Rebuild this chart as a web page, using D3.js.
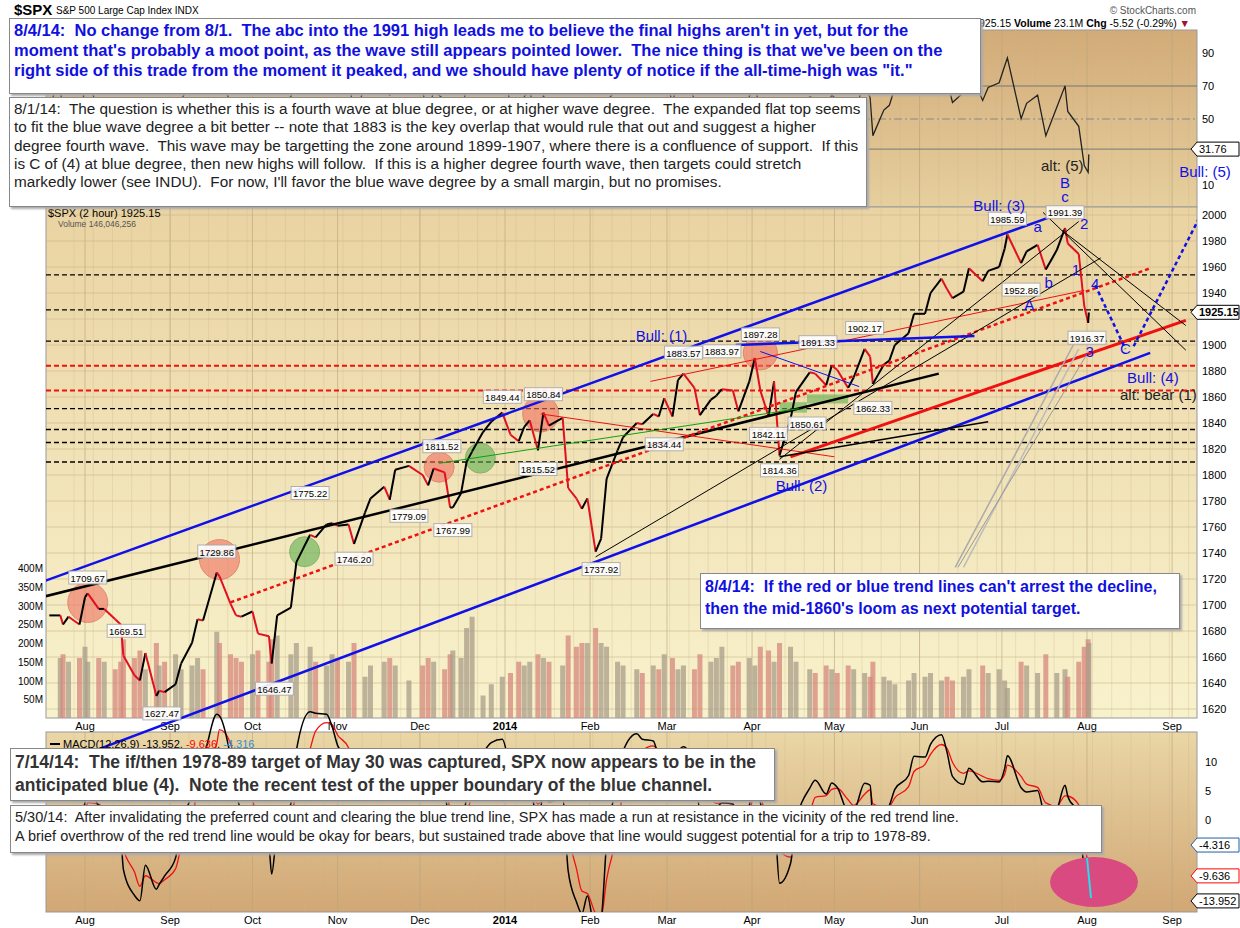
<!DOCTYPE html>
<html>
<head>
<meta charset="utf-8">
<script src="https://cdn.jsdelivr.net/npm/d3@7"></script>
<style>
  body { margin: 0; background: #fff; }
  svg text { font-family: Arial, "Liberation Sans", sans-serif; }
  .note { position: absolute; background: #fff; border: 1px solid #888; box-shadow: 2px 2px 2px #aaa; white-space: pre-wrap;
          font-family: Arial, "Liberation Sans", sans-serif; box-sizing: border-box; padding: 2px 4px; overflow: hidden; }
</style>
</head>
<body>
<div id="chart" style="position:relative;width:1240px;height:928px;"></div>
<script>
// 2-hour SPX closes (approximate), date,close,volume(M)
var raw = `2013-07-19,1692,180
2013-07-23,1692,160
2013-07-24,1685,170
2013-07-26,1691,150
2013-07-30,1685,160
2013-08-01,1706,190
2013-08-02,1709,150
2013-08-06,1697,160
2013-08-08,1697,150
2013-08-12,1689,130
2013-08-14,1685,150
2013-08-15,1661,210
2013-08-19,1646,160
2013-08-21,1642,180
2013-08-23,1663,130
2013-08-27,1630,200
2013-08-28,1634,140
2013-08-30,1633,150
2013-09-03,1639,170
2013-09-05,1655,130
2013-09-09,1671,140
2013-09-11,1689,160
2013-09-13,1688,130
2013-09-18,1725,230
2013-09-19,1722,200
2013-09-23,1701,170
2013-09-25,1692,160
2013-09-27,1691,150
2013-10-01,1695,170
2013-10-03,1678,180
2013-10-07,1676,150
2013-10-08,1655,210
2013-10-10,1692,220
2013-10-15,1698,170
2013-10-17,1733,200
2013-10-22,1754,190
2013-10-24,1752,150
2013-10-28,1762,140
2013-10-30,1763,170
2013-11-01,1761,160
2013-11-05,1762,150
2013-11-07,1747,200
2013-11-11,1771,110
2013-11-13,1782,140
2013-11-18,1791,150
2013-11-20,1781,160
2013-11-22,1804,140
2013-11-27,1807,100
2013-12-02,1800,140
2013-12-04,1792,160
2013-12-06,1805,150
2013-12-10,1802,130
2013-12-12,1775,170
2013-12-13,1775,180
2013-12-16,1786,160
2013-12-18,1810,240
2013-12-20,1818,270
2013-12-24,1833,60
2013-12-27,1841,90
2013-12-31,1848,110
2014-01-03,1831,120
2014-01-06,1826,150
2014-01-08,1837,140
2014-01-10,1842,150
2014-01-13,1819,170
2014-01-15,1848,160
2014-01-17,1838,150
2014-01-22,1844,140
2014-01-24,1790,220
2014-01-27,1782,190
2014-01-29,1774,200
2014-01-31,1782,200
2014-02-03,1741,240
2014-02-05,1751,200
2014-02-07,1797,190
2014-02-11,1819,150
2014-02-13,1829,140
2014-02-18,1840,130
2014-02-20,1839,120
2014-02-24,1847,140
2014-02-26,1845,130
2014-02-28,1859,170
2014-03-03,1845,160
2014-03-05,1873,130
2014-03-07,1878,140
2014-03-11,1867,130
2014-03-13,1846,170
2014-03-17,1858,150
2014-03-19,1861,160
2014-03-21,1866,190
2014-03-25,1865,140
2014-03-27,1849,150
2014-03-31,1872,160
2014-04-02,1890,140
2014-04-04,1865,190
2014-04-07,1845,180
2014-04-09,1872,150
2014-04-11,1815,200
2014-04-15,1843,190
2014-04-17,1864,150
2014-04-22,1879,130
2014-04-24,1878,120
2014-04-28,1869,140
2014-04-30,1884,130
2014-05-02,1881,120
2014-05-06,1867,140
2014-05-08,1875,130
2014-05-12,1897,120
2014-05-14,1891,110
2014-05-15,1870,150
2014-05-19,1885,110
2014-05-21,1888,100
2014-05-23,1900,90
2014-05-28,1909,100
2014-05-30,1924,120
2014-06-03,1924,110
2014-06-05,1940,120
2014-06-09,1951,100
2014-06-11,1943,110
2014-06-13,1936,100
2014-06-17,1941,110
2014-06-19,1959,130
2014-06-24,1949,140
2014-06-26,1957,120
2014-06-30,1960,130
2014-07-02,1974,100
2014-07-03,1985,80
2014-07-08,1963,150
2014-07-10,1972,140
2014-07-14,1977,120
2014-07-17,1958,170
2014-07-21,1973,120
2014-07-24,1990,130
2014-07-25,1978,110
2014-07-29,1970,150
2014-07-31,1930,190
2014-08-01T10:00,1917,210
2014-08-01T16:00,1925,200`;

var parse = d3.isoParse;
var data = raw.split("\n").map(r => {
  var p = r.split(",");
  return { date: parse(p[0]), close: +p[1], vol: +p[2] };
});

// pivot labels: date, price, text, where (a = above, b = below)
var pivots = [
  ["2013-08-02", 1710, "1709.67", "a"], ["2013-09-18", 1730, "1729.86", "a"],
  ["2013-08-16", 1669, "1669.51", "a"], ["2013-08-29", 1627, "1627.47", "b"],
  ["2013-10-09", 1646, "1646.47", "b"], ["2013-10-22", 1775, "1775.22", "a"],
  ["2013-11-07", 1746, "1746.20", "b"], ["2013-11-27", 1779, "1779.09", "b"],
  ["2013-12-13", 1768, "1767.99", "b"], ["2013-12-09", 1811, "1811.52", "a"],
  ["2013-12-31", 1849, "1849.44", "a"], ["2014-01-15", 1851, "1850.84", "a"],
  ["2014-01-13", 1815, "1815.52", "b"], ["2014-02-05", 1738, "1737.92", "b"],
  ["2014-02-28", 1834, "1834.44", "b"], ["2014-03-07", 1883, "1883.57", "a"],
  ["2014-03-21", 1884, "1883.97", "a"], ["2014-04-04", 1897, "1897.28", "a"],
  ["2014-04-07", 1842, "1842.11", "b"], ["2014-04-11", 1814, "1814.36", "b"],
  ["2014-04-25", 1891, "1891.33", "a"], ["2014-05-12", 1902, "1902.17", "a"],
  ["2014-04-21", 1850, "1850.61", "b"], ["2014-05-15", 1862, "1862.33", "b"],
  ["2014-07-03", 1986, "1985.59", "a"], ["2014-07-24", 1991, "1991.39", "a"],
  ["2014-07-08", 1953, "1952.86", "b"], ["2014-08-01", 1916, "1916.37", "b"]
];

// trend lines: [date1, price1, date2, price2, colour, width, dash]
var trend = [
  ["2013-07-01", 1706, "2014-07-18", 1998, "#1010e8", 2.5, null],
  ["2013-07-23", 1578, "2014-08-24", 1894, "#1010e8", 2.5, null],
  ["2013-07-01", 1698, "2014-06-08", 1878, "#000", 2.5, null],
  ["2013-09-23", 1702, "2014-08-24", 1959, "#f01010", 2.5, "4,3"],
  ["2014-04-15", 1814, "2014-09-06", 1919, "#f01010", 3, null],
  ["2014-02-23", 1872, "2014-07-31", 1942, "#f01010", 1, null],
  ["2014-01-14", 1847, "2014-05-01", 1814, "#f01010", 1, null],
  ["2014-04-04", 1895, "2014-05-10", 1868, "#1010e8", 1, null],
  ["2013-12-08", 1809, "2014-04-18", 1851, "#10a010", 1, null],
  ["2014-02-03", 1737, "2014-08-06", 1967, "#000", 1, null],
  ["2014-04-11", 1812, "2014-07-29", 1995, "#000", 1, null],
  ["2014-04-11", 1814, "2014-06-26", 1841, "#000", 1.5, null],
  ["2014-07-16", 2002, "2014-09-06", 1896, "#000", 1, null],
  ["2014-07-23", 1988, "2014-09-06", 1915, "#000", 1, null],
  ["2014-03-26", 1900, "2014-06-21", 1907, "#1010e8", 2.5, null],
  ["2014-08-04", 1946, "2014-08-15", 1897, "#1010e8", 2.5, "4,3"],
  ["2014-08-18", 1899, "2014-09-17", 2023, "#1010e8", 2.5, "4,3"],
  ["2014-06-14", 1729, "2014-07-27", 1900, "#aaa", 1.5, null],
  ["2014-06-17", 1729, "2014-07-29", 1897, "#bbb", 1.5, null],
  ["2014-06-15", 1729, "2014-08-01", 1893, "#999", 1, null]
];

var circles = [
  ["2013-08-02", 1702, 20, "red"], ["2013-09-19", 1735, 20, "red"],
  ["2014-01-14", 1847, 18, "red"], ["2013-12-08", 1806, 15, "red"],
  ["2014-04-04", 1894, 17, "red"], ["2013-10-20", 1741, 15, "green"],
  ["2013-12-23", 1813, 15, "green"]
];

var waves = [
  ["2014-02-27", 1903, "Bull: (1)", "#1010e8"], ["2014-04-19", 1788, "Bull: (2)", "#1010e8"],
  ["2014-06-30", 2003, "Bull: (3)", "#1010e8"], ["2014-07-24", 2021, "B", "#1010e8"],
  ["2014-07-24", 2010, "c", "#1010e8"], ["2014-07-14", 1987, "a", "#1010e8"],
  ["2014-07-31", 1989, "2", "#1010e8"], ["2014-07-18", 1944, "b", "#1010e8"],
  ["2014-07-11", 1927, "A", "#1010e8"], ["2014-07-28", 1954, "1", "#1010e8"],
  ["2014-08-04", 1943, "4", "#1010e8"], ["2014-08-15", 1893, "C", "#1010e8"],
  ["2014-08-02", 1891, "3", "#1010e8"], ["2014-08-25", 1871, "Bull: (4)", "#1010e8"],
  ["2014-09-13", 2029, "Bull: (5)", "#1010e8"], ["2014-07-23", 2034, "alt: (5)", "#222"],
  ["2014-08-27", 1858, "alt: bear (1)", "#222"]
];

var hlines = [[1954, "#000"], [1927, "#000"], [1903, "#000"], [1884, "#f01010"], [1865, "#f01010"],
              [1851, "#000"], [1835, "#000"], [1825, "#000"], [1810, "#000"]];

var W = 1240, H = 928, L = 46, R = 1197;
var svg = d3.select("#chart").append("svg").attr("width", W).attr("height", H);
var defs = svg.append("defs");
function grad(id, c1, c2) {
  var g = defs.append("linearGradient").attr("id", id).attr("x1", 0).attr("y1", 0).attr("x2", 0).attr("y2", 1);
  g.append("stop").attr("offset", 0).attr("stop-color", c1);
  g.append("stop").attr("offset", 1).attr("stop-color", c2);
}
grad("gRsi", "#d2ab78", "#e6cf9e");
grad("gPrice", "#ead3a2", "#f8f2cc");
grad("gMacd", "#ead6a6", "#d1a775");

var x = d3.scaleTime().domain([new Date(2013, 7, 1), new Date(2014, 7, 1)]).range([85, 1087]);
var y = d3.scaleLinear().domain([1620, 2000]).range([709, 215]);
var yv = d3.scaleLinear().domain([0, 400]).range([718, 568]);
var yr = d3.scaleLinear().domain([10, 90]).range([185, 53]);
var ym = d3.scaleLinear().domain([0, 10]).range([820, 762]);

var panes = [[30, 207, "gRsi"], [207, 718, "gPrice"], [732, 912, "gMacd"]];
panes.forEach(p => svg.append("rect").attr("x", L).attr("y", p[0]).attr("width", R - L)
  .attr("height", p[1] - p[0]).attr("fill", "url(#" + p[2] + ")").attr("stroke", "#999"));

var months = d3.timeMonth.range(new Date(2013, 7, 1), new Date(2014, 8, 2));
defs.append("clipPath").attr("id", "cp").append("rect").attr("x", L).attr("y", 30).attr("width", R - L).attr("height", 882);

// grid
var grid = svg.append("g").attr("stroke", "#c9b58e").attr("stroke-width", 0.6);
d3.timeWeek.range(new Date(2013, 6, 22), new Date(2014, 8, 10)).forEach(d => {
  [[30, 718], [732, 912]].forEach(s => grid.append("line").attr("x1", x(d)).attr("x2", x(d)).attr("y1", s[0]).attr("y2", s[1])
    .attr("stroke-opacity", 0.5));
});
months.forEach(d => [[30, 718], [732, 912]].forEach(s => grid.append("line").attr("x1", x(d)).attr("x2", x(d))
  .attr("y1", s[0]).attr("y2", s[1]).attr("stroke", "#b8a27a")));
d3.range(1620, 2001, 20).forEach(v => grid.append("line").attr("x1", L).attr("x2", R).attr("y1", y(v)).attr("y2", y(v)));

// month labels
[726, 920].forEach(yy => months.forEach(d => svg.append("text").attr("x", x(d)).attr("y", yy + 4)
  .attr("text-anchor", "middle").attr("font-size", 11).attr("font-weight", d.getMonth() === 0 ? "bold" : "normal")
  .text(d.getMonth() === 0 ? "2014" : d3.timeFormat("%b")(d))));

// right axes
var ax = svg.append("g").attr("font-size", 11);
d3.range(1620, 2001, 20).filter(v => v !== 1920).forEach(v => ax.append("text").attr("x", R + 5).attr("y", y(v) + 4).text(v));
[10, 90].forEach(v => ax.append("text").attr("x", R + 5).attr("y", yr(v) + 4).text(v));
[[50, "#888"], [70, "#777"], [31.76, "#777"]].forEach(a => {
  svg.append("line").attr("x1", L).attr("x2", R).attr("y1", yr(a[0])).attr("y2", yr(a[0])).attr("stroke", a[1])
    .attr("stroke-dasharray", a[0] === 50 ? "8,3,2,3" : null);
  if (a[0] !== 31.76) ax.append("text").attr("x", R + 5).attr("y", yr(a[0]) + 4).text(a[0]);
});
[10, 5, 0].forEach(v => ax.append("text").attr("x", R + 8).attr("y", ym(v) + 4).text(v));
d3.range(50, 401, 50).forEach(v => ax.append("text").attr("x", L - 3).attr("y", yv(v) + 4)
  .attr("text-anchor", "end").attr("font-size", 10).text(v + "M"));

var plot = svg.append("g").attr("clip-path", "url(#cp)");

// volume
var bw = 5;
plot.selectAll(".vb").data(data.slice(1)).join("rect")
  .attr("x", d => x(d.date) - bw / 2).attr("width", bw)
  .attr("y", d => yv(d.vol)).attr("height", d => 718 - yv(d.vol))
  .attr("fill", (d, i) => d.close >= data[i].close ? "#a89d8a" : "#d6877c").attr("opacity", 0.75);

// horizontal levels
hlines.forEach(h => plot.append("line").attr("x1", L).attr("x2", R).attr("y1", y(h[0])).attr("y2", y(h[0]))
  .attr("stroke", h[1]).attr("stroke-width", h[1] === "#000" ? 1.3 : 2).attr("stroke-dasharray", "5,3"));

// circles & boxes
circles.forEach(c => plot.append("circle").attr("cx", x(parse(c[0]))).attr("cy", y(c[1])).attr("r", c[2])
  .attr("fill", c[3] === "red" ? "#f07060" : "#60b050").attr("opacity", 0.6)
  .attr("stroke", c[3] === "red" ? "#d05040" : "#409030"));
[["2014-04-11", "2014-04-21", 1856, 1848], ["2014-04-21", "2014-05-06", 1862, 1855]].forEach(b =>
  plot.append("rect").attr("x", x(parse(b[0]))).attr("width", x(parse(b[1])) - x(parse(b[0])))
    .attr("y", y(b[2])).attr("height", y(b[3]) - y(b[2])).attr("fill", "#60b050").attr("opacity", 0.6));

// price line, coloured by direction
for (var i = 1; i < data.length; i++) {
  plot.append("line").attr("x1", x(data[i - 1].date)).attr("y1", y(data[i - 1].close))
    .attr("x2", x(data[i].date)).attr("y2", y(data[i].close))
    .attr("stroke", data[i].close >= data[i - 1].close ? "#000" : "#e01020").attr("stroke-width", 2);
}

// trend lines
trend.forEach(t => plot.append("line").attr("x1", x(parse(t[0]))).attr("y1", y(t[1]))
  .attr("x2", x(parse(t[2]))).attr("y2", y(t[3])).attr("stroke", t[4]).attr("stroke-width", t[5])
  .attr("stroke-dasharray", t[6]));

// pivot labels
pivots.forEach(p => {
  var px = x(parse(p[0])), py = y(p[1]) + (p[3] === "a" ? -14 : 14);
  var g = plot.append("g");
  g.append("rect").attr("x", px - 19).attr("y", py - 7).attr("width", 38).attr("height", 13)
    .attr("fill", "#fff").attr("stroke", "#aaa").attr("opacity", 0.9);
  g.append("text").attr("x", px).attr("y", py + 3.5).attr("text-anchor", "middle").attr("font-size", 9.5).text(p[2]);
});

// wave labels
waves.forEach(w => svg.append("text").attr("x", x(parse(w[0]))).attr("y", y(w[1]))
  .attr("text-anchor", "middle").attr("font-size", 15).attr("fill", w[3]).text(w[2]));

// RSI computed from the closes
var rsi = [], ag = 0, al = 0, n = 4;
data.forEach((d, i) => {
  if (i === 0) { rsi.push(50); return; }
  var ch = d.close - data[i - 1].close;
  ag = (ag * (n - 1) + Math.max(ch, 0)) / n;
  al = (al * (n - 1) + Math.max(-ch, 0)) / n;
  rsi.push(al === 0 ? 100 : 100 - 100 / (1 + ag / al));
});
plot.append("path").datum(data).attr("fill", "none").attr("stroke", "#222").attr("stroke-width", 1.3)
  .attr("d", d3.line().x(d => x(d.date)).y((d, i) => yr(Math.max(12, Math.min(88, rsi[i])))));

// MACD computed from the closes
function ema(arr, p) { var k = 2 / (p + 1), out = [], e = arr[0]; arr.forEach(v => { e = v * k + e * (1 - k); out.push(e); }); return out; }
var cl = data.map(d => d.close), f = ema(cl, 3), s = ema(cl, 7);
var macd = f.map((v, i) => (v - s[i]) * 0.9), sig = ema(macd, 3);
var mline = d3.line().x(d => x(d.date)).curve(d3.curveMonotoneX);
plot.append("path").datum(data).attr("fill", "none").attr("stroke", "#f01010").attr("stroke-width", 1.3)
  .attr("d", mline.y((d, i) => ym(sig[i])));
plot.append("path").datum(data).attr("fill", "none").attr("stroke", "#000").attr("stroke-width", 1.5)
  .attr("d", mline.y((d, i) => ym(macd[i])));
svg.append("ellipse").attr("cx", 1094).attr("cy", 882).attr("rx", 44).attr("ry", 25).attr("fill", "#d94a80");
svg.append("line").attr("x1", 1087).attr("y1", 858).attr("x2", 1091).attr("y2", 898).attr("stroke", "#20e0f0").attr("stroke-width", 2);

// value tags on right axis
function tag(yy, txt, col, bold) {
  var g = svg.append("g");
  g.append("path").attr("d", `M${R - 6},${yy} L${R},${yy - 7} L${R + 42},${yy - 7} L${R + 42},${yy + 7} L${R},${yy + 7} Z`)
    .attr("fill", "#fff").attr("stroke", col);
  g.append("text").attr("x", R + 2).attr("y", yy + 4).attr("font-size", 11).attr("font-weight", bold ? "bold" : "normal").text(txt);
}
tag(y(1925.15), "1925.15", "#000", true);
tag(yr(31.76), "31.76", "#000", false);
tag(ym(-4.316), "-4.316", "#2060a0", false);
tag(ym(-9.636), "-9.636", "#f00", false);
tag(ym(-13.952), "-13.952", "#000", false);

// headers
svg.append("text").attr("x", 14).attr("y", 15).attr("font-size", 15).attr("font-weight", "bold").text("$SPX");
svg.append("text").attr("x", 56).attr("y", 14).attr("font-size", 10).text("S&P 500 Large Cap Index  INDX");
svg.append("text").attr("x", 1196).attr("y", 14).attr("text-anchor", "end").attr("font-size", 10).attr("fill", "#555").text("© StockCharts.com");
svg.append("text").attr("x", 1190).attr("y", 27).attr("text-anchor", "end").attr("font-size", 10.5)
  .html('925.15  <tspan font-weight="bold">Volume</tspan> 23.1M  <tspan font-weight="bold">Chg</tspan> -5.52 (-0.29%) <tspan fill="#a01030">▼</tspan>');
svg.append("text").attr("x", 48).attr("y", 217).attr("font-size", 11).attr("font-family", "DejaVu Sans Mono").text("$SPX (2 hour) 1925.15");
svg.append("text").attr("x", 58).attr("y", 227).attr("font-size", 8.5).attr("fill", "#555").text("Volume 146,046,256");
svg.append("line").attr("x1", 50).attr("x2", 60).attr("y1", 744).attr("y2", 744).attr("stroke", "#000").attr("stroke-width", 2);
svg.append("text").attr("x", 63).attr("y", 748).attr("font-size", 11)
  .html('MACD(12,26,9) -13.952, <tspan fill="#f00">-9.636</tspan>, <tspan fill="#3090d0">-4.316</tspan>');

// text notes
var notes = [
  [9, 18, 972, 76, "bold 16.5px Arial", "#1010e0", 1.2,
   "8/4/14:  No change from 8/1.  The abc into the 1991 high leads me to believe the final highs aren't in yet, but for the moment that's probably a moot point, as the wave still appears pointed lower.  The nice thing is that we've been on the right side of this trade from the moment it peaked, and we should have plenty of notice if the all-time-high was \"it.\""],
  [9, 97, 858, 110, "15.3px Arial", "#222", 1.2,
   "8/1/14:  The question is whether this is a fourth wave at blue degree, or at higher wave degree.  The expanded flat top seems to fit the blue wave degree a bit better -- note that 1883 is the key overlap that would rule that out and suggest a higher degree fourth wave.  This wave may be targetting the zone around 1899-1907, where there is a confluence of support.  If this is C of (4) at blue degree, then new highs will follow.  If this is a higher degree fourth wave, then targets could stretch markedly lower (see INDU).  For now, I'll favor the blue wave degree by a small margin, but no promises."],
  [700, 573, 480, 56, "bold 16px Arial", "#1010e0", 1.4,
   "8/4/14:  If the red or blue trend lines can't arrest the decline, then the mid-1860's loom as next potential target."],
  [10, 748, 765, 53, "bold 17.5px Arial", "#333", 1.3,
   "7/14/14:  The if/then 1978-89 target of May 30 was captured, SPX now appears to be in the anticipated blue (4).  Note the recent test of the upper boundary of the blue channel."],
  [10, 805, 1092, 48, "14.5px Arial", "#222", 1.3,
   "5/30/14:  After invalidating the preferred count and clearing the blue trend line, SPX has made a run at resistance in the vicinity of the red trend line.\nA brief overthrow of the red trend line would be okay for bears, but sustained trade above that line would suggest potential for a trip to 1978-89."]
];
notes.forEach(nt => d3.select("#chart").append("div").attr("class", "note")
  .style("left", nt[0] + "px").style("top", nt[1] + "px").style("width", nt[2] + "px").style("height", nt[3] + "px")
  .style("font", nt[4]).style("color", nt[5]).style("line-height", nt[6]).text(nt[7]));
</script>
</body>
</html>
